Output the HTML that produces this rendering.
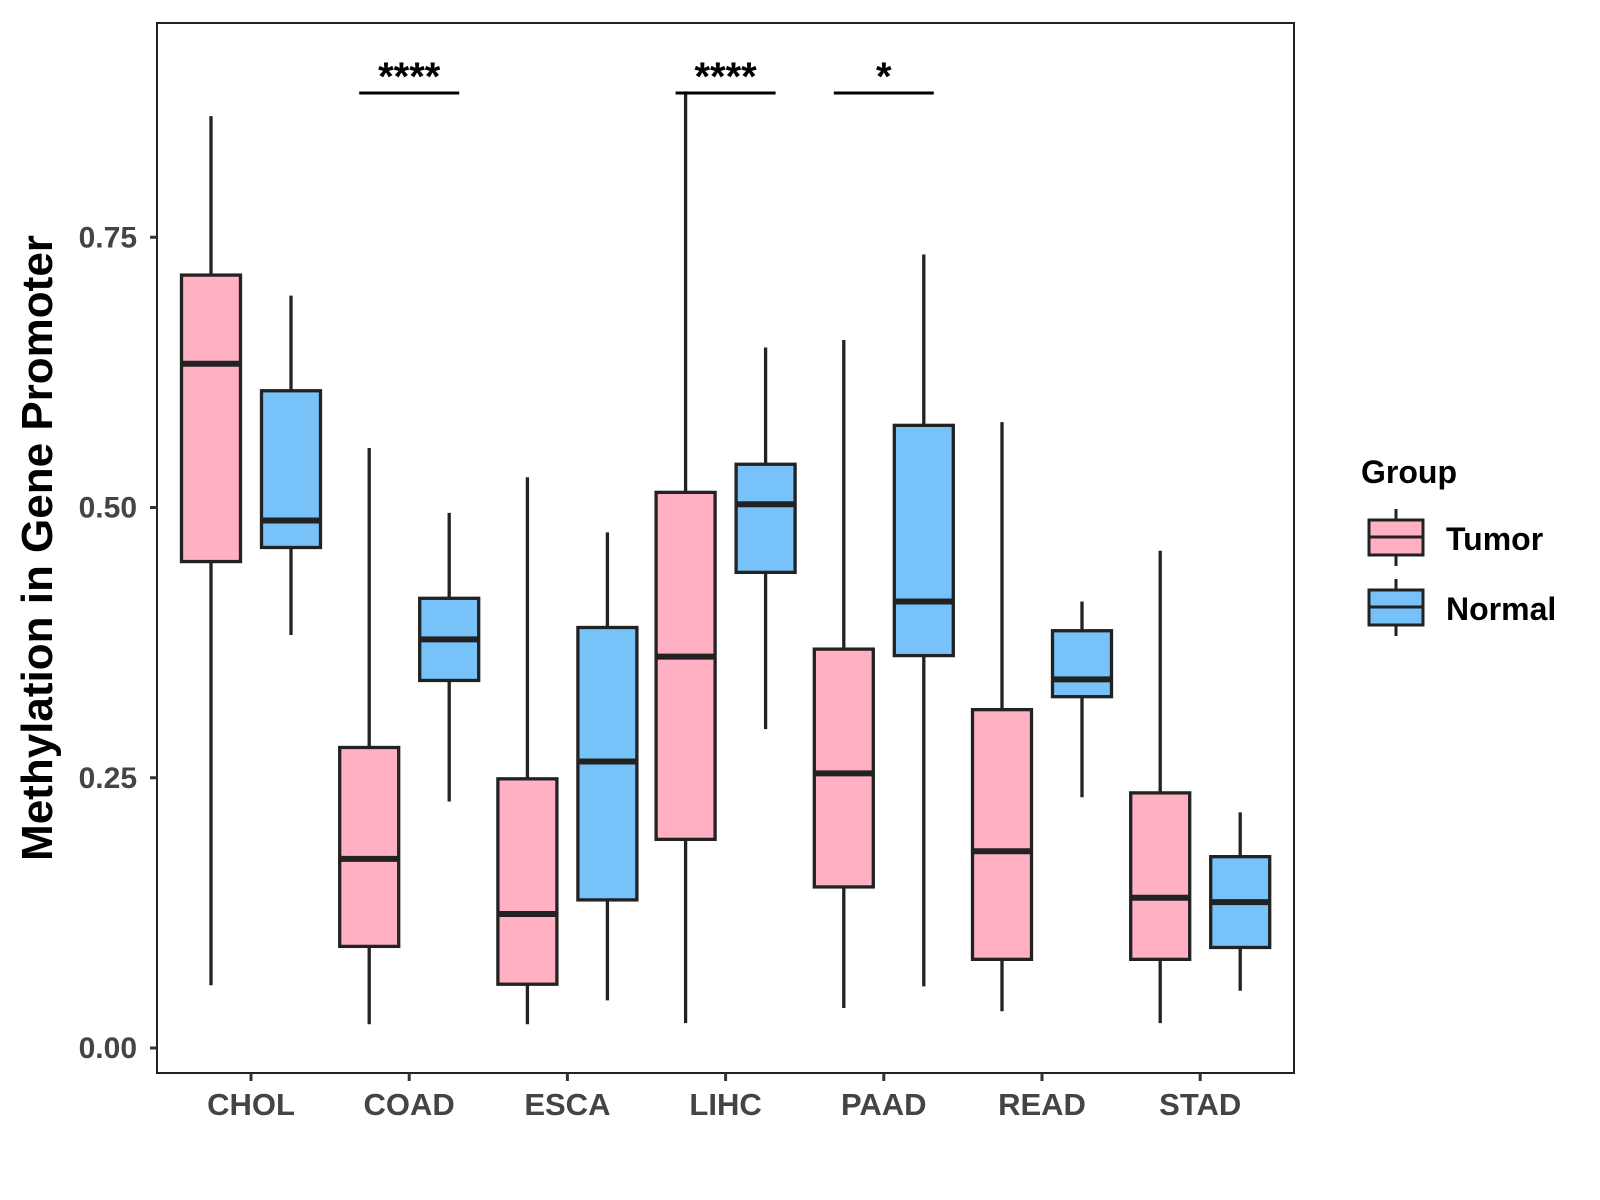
<!DOCTYPE html>
<html><head><meta charset="utf-8"><style>
html,body{margin:0;padding:0;background:#fff;}
svg{display:block;font-family:"Liberation Sans",Arial,sans-serif;font-weight:bold;}
</style></head><body>
<svg id="chart" width="1600" height="1200" viewBox="0 0 1600 1200">
<rect x="0" y="0" width="1600" height="1200" fill="#fff"/>
<rect x="157" y="23" width="1137" height="1050" fill="none" stroke="#222" stroke-width="2"/>
<g id="marks"></g>
<text x="52" y="548" transform="rotate(-90 52 548)" text-anchor="middle" font-size="44" fill="#000">Methylation in Gene Promoter</text>
<g>
<text x="1361" y="483" font-size="32" fill="#000">Group</text>
<g>
<line x1="1396" y1="509" x2="1396" y2="566" stroke="#222" stroke-width="3"/>
<rect x="1369" y="520" width="54" height="35" fill="#FFB1C3" stroke="#222" stroke-width="3"/>
<line x1="1369" y1="537" x2="1423" y2="537" stroke="#222" stroke-width="3"/>
<text x="1446" y="550" font-size="32" fill="#000">Tumor</text>
</g>
<g>
<line x1="1396" y1="579" x2="1396" y2="636" stroke="#222" stroke-width="3"/>
<rect x="1369" y="590" width="54" height="35" fill="#77C2F8" stroke="#222" stroke-width="3"/>
<line x1="1369" y1="607" x2="1423" y2="607" stroke="#222" stroke-width="3"/>
<text x="1446" y="620" font-size="32" fill="#000">Normal</text>
</g>
</g>
</svg>
<script>
const categories = ["CHOL","COAD","ESCA","LIHC","PAAD","READ","STAD"];
// [lowWhisker, Q1, median, Q3, highWhisker]
const tumorStats = [
 [0.058,0.450,0.633,0.715,0.862],
 [0.022,0.094,0.175,0.278,0.555],
 [0.022,0.059,0.124,0.249,0.528],
 [0.023,0.193,0.362,0.514,0.885],
 [0.037,0.149,0.254,0.369,0.655],
 [0.034,0.082,0.182,0.313,0.579],
 [0.023,0.082,0.139,0.236,0.460]
];
const normalStats = [
 [0.382,0.463,0.488,0.608,0.696],
 [0.228,0.340,0.378,0.416,0.495],
 [0.044,0.137,0.265,0.389,0.477],
 [0.295,0.440,0.503,0.540,0.648],
 [0.057,0.363,0.413,0.576,0.734],
 [0.232,0.325,0.341,0.386,0.413],
 [0.053,0.093,0.135,0.177,0.218]
];
const yTicks = [0, 0.25, 0.5, 0.75];
const yTickLabels = ["0.00","0.25","0.50","0.75"];
const sigCategories = ["COAD","LIHC","PAAD"];
const sigLabels = ["****","****","*"];

const NS="http://www.w3.org/2000/svg";
const g=document.getElementById('marks');
function y(v){return 1048 - v*1081;}
function x(i){return 251 + i*158.2;}
function mk(tag,attrs,parent){const e=document.createElementNS(NS,tag);for(const k in attrs)e.setAttribute(k,attrs[k]);(parent||g).appendChild(e);return e;}

yTicks.forEach((t,i)=>{
  const l=mk('line',{x1:150,x2:157,y1:y(t),y2:y(t),stroke:'#333','stroke-width':3});
  
  
  const tx=mk('text',{x:137,y:y(t)+10,'text-anchor':'end','font-size':30,fill:'#444'});
  tx.textContent=yTickLabels[i];
  
  
});
categories.forEach((c,i)=>{
  const l=mk('line',{x1:x(i),x2:x(i),y1:1073,y2:1081,stroke:'#333','stroke-width':3});
  
  
  const tx=mk('text',{x:x(i),y:1115,'text-anchor':'middle','font-size':31,fill:'#444'});
  tx.textContent=c;
  
  
});
function box(cx,s,fill,name){
  const grp=mk('g',{});
  
  
  const w=59;
  mk('line',{x1:cx,x2:cx,y1:y(s[0]),y2:y(s[4]),stroke:'#222','stroke-width':3.3},grp);
  mk('rect',{x:cx-w/2,y:y(s[3]),width:w,height:y(s[1])-y(s[3]),fill:fill,stroke:'#222','stroke-width':3.3},grp);
  mk('line',{x1:cx-w/2,x2:cx+w/2,y1:y(s[2]),y2:y(s[2]),stroke:'#222','stroke-width':6},grp);
}
categories.forEach((c,i)=>{
  box(x(i)-40,tumorStats[i],'#FFB1C3','box-tumor-'+c.toLowerCase());
  box(x(i)+40,normalStats[i],'#77C2F8','box-normal-'+c.toLowerCase());
});
sigCategories.forEach((c,k)=>{
  const i=categories.indexOf(c);
  const l=mk('line',{x1:x(i)-50,x2:x(i)+50,y1:93,y2:93,stroke:'#000','stroke-width':3});
  
  
  const t=mk('text',{x:x(i),y:90,'text-anchor':'middle','font-size':40,fill:'#000'});
  t.textContent=sigLabels[k];
  
  
});
</script>
</body></html>
